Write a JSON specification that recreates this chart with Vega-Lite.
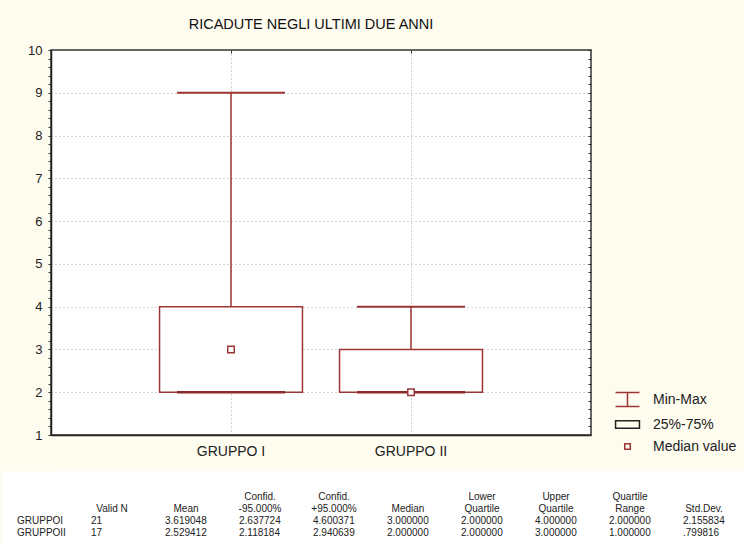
{
  "$schema": "https://vega.github.io/schema/vega-lite/v6.json",
  "background": "#FEFBEF",
  "padding": {"top": 15, "left": 0, "right": 0, "bottom": 0},
  "config": {"font": "Liberation Sans", "text": {"font": "Liberation Sans"}},
  "spacing": 12,
  "datasets": {
    "boxes": [
      {"group": "GRUPPO I", "min": 2, "q1": 2, "median": 3, "q3": 4, "max": 9},
      {"group": "GRUPPO II", "min": 2, "q1": 2, "median": 2, "q3": 3, "max": 4}
    ],
    "legendItems": [
      {"item": "Min-Max"},
      {"item": "25%-75%"},
      {"item": "Median value"}
    ],
    "table": [
      {"row": "h1", "col": "c3", "text": "Confid."},
      {"row": "h1", "col": "c4", "text": "Confid."},
      {"row": "h1", "col": "c6", "text": "Lower"},
      {"row": "h1", "col": "c7", "text": "Upper"},
      {"row": "h1", "col": "c8", "text": "Quartile"},
      {"row": "h2", "col": "c1", "text": "Valid N"},
      {"row": "h2", "col": "c2", "text": "Mean"},
      {"row": "h2", "col": "c3", "text": "-95.000%"},
      {"row": "h2", "col": "c4", "text": "+95.000%"},
      {"row": "h2", "col": "c5", "text": "Median"},
      {"row": "h2", "col": "c6", "text": "Quartile"},
      {"row": "h2", "col": "c7", "text": "Quartile"},
      {"row": "h2", "col": "c8", "text": "Range"},
      {"row": "h2", "col": "c9", "text": "Std.Dev."},
      {"row": "r1", "col": "c0", "text": "GRUPPOI"},
      {"row": "r1", "col": "c1", "text": "21"},
      {"row": "r1", "col": "c2", "text": "3.619048"},
      {"row": "r1", "col": "c3", "text": "2.637724"},
      {"row": "r1", "col": "c4", "text": "4.600371"},
      {"row": "r1", "col": "c5", "text": "3.000000"},
      {"row": "r1", "col": "c6", "text": "2.000000"},
      {"row": "r1", "col": "c7", "text": "4.000000"},
      {"row": "r1", "col": "c8", "text": "2.000000"},
      {"row": "r1", "col": "c9", "text": "2.155834"},
      {"row": "r2", "col": "c0", "text": "GRUPPOII"},
      {"row": "r2", "col": "c1", "text": "17"},
      {"row": "r2", "col": "c2", "text": "2.529412"},
      {"row": "r2", "col": "c3", "text": "2.118184"},
      {"row": "r2", "col": "c4", "text": "2.940639"},
      {"row": "r2", "col": "c5", "text": "2.000000"},
      {"row": "r2", "col": "c6", "text": "2.000000"},
      {"row": "r2", "col": "c7", "text": "3.000000"},
      {"row": "r2", "col": "c8", "text": "1.000000"},
      {"row": "r2", "col": "c9", "text": ".799816"}
    ]
  },
  "vconcat": [
    {
      "width": 540,
      "height": 385,
      "title": {"text": "RICADUTE NEGLI ULTIMI DUE ANNI", "fontSize": 14.5, "fontWeight": "normal", "color": "#111", "frame": "group", "dx": -10, "offset": 12, "font": "Liberation Sans"},
      "view": {"fill": "white", "stroke": "#333", "strokeWidth": 1.5},
      "data": {"name": "boxes"},
      "resolve": {"axis": {"y": "independent", "x": "independent"}},
      "layer": [
        {
          "mark": {"type": "rule", "color": "#9c3636", "strokeWidth": 1.5},
          "encoding": {
            "x": {"field": "group", "type": "nominal", "sort": null,
              "scale": {"domain": ["GRUPPO I", "GRUPPO II"], "paddingInner": 0.206, "paddingOuter": 0.603},
              "axis": {"title": null, "labelAngle": 0, "labelFontSize": 14, "labelColor": "#222", "labelPadding": 9, "ticks": false, "grid": true, "bandPosition": 0.5, "gridColor": "#a8a8a8", "gridDash": [1, 3], "gridWidth": 1, "domainColor": "#222", "domainWidth": 1.5}},
            "y": {"field": "min", "type": "quantitative",
              "scale": {"domain": [1, 10], "nice": false, "zero": false},
              "axis": {"title": null, "tickCount": 45, "labelOverlap": false, "labelExpr": "datum.value % 1 === 0 ? format(datum.value, 'd') : ''", "labelFontSize": 13, "labelColor": "#222", "labelPadding": 6, "tickSize": 3, "tickColor": "#333", "domainColor": "#222", "domainWidth": 1.5, "grid": true, "gridColor": "#a8a8a8", "gridDash": [1, 3], "gridOpacity": {"condition": {"test": "datum.value % 1 === 0 && datum.value > 1 && datum.value < 10", "value": 1}, "value": 0}, "minExtent": 50, "maxExtent": 50}},
            "y2": {"field": "max"}
          }
        },
        {
          "mark": {"type": "bar", "fill": "white", "stroke": "#9c3636", "strokeWidth": 1.5},
          "encoding": {
            "x": {"field": "group", "type": "nominal", "sort": null, "axis": null},
            "y": {"field": "q1", "type": "quantitative", "axis": null},
            "y2": {"field": "q3"}
          }
        },
        {
          "mark": {"type": "tick", "color": "#9c3636", "size": 108, "thickness": 2, "opacity": 1},
          "encoding": {
            "x": {"field": "group", "type": "nominal", "sort": null, "axis": null},
            "y": {"field": "max", "type": "quantitative", "axis": null}
          }
        },
        {
          "mark": {"type": "tick", "color": "#8a2a2a", "size": 108, "thickness": 2.5, "opacity": 1},
          "encoding": {
            "x": {"field": "group", "type": "nominal", "sort": null, "axis": null},
            "y": {"field": "min", "type": "quantitative", "axis": null}
          }
        },
        {
          "mark": {"type": "point", "shape": "square", "size": 42, "filled": true, "fill": "white", "stroke": "#9c3636", "strokeWidth": 1.5, "opacity": 1},
          "encoding": {
            "x": {"field": "group", "type": "nominal", "sort": null,
              "axis": {"orient": "top", "title": null, "labels": false, "ticks": true, "tickSize": -3, "tickColor": "#333", "domain": false, "grid": false, "bandPosition": 0.5, "minExtent": 0, "maxExtent": 0}},
            "y": {"field": "median", "type": "quantitative",
              "axis": {"orient": "right", "title": null, "labels": false, "tickCount": 45, "tickSize": -3, "tickColor": "#333", "domain": false, "grid": false, "minExtent": 0, "maxExtent": 0}}
          }
        },
        {
          "data": {"name": "legendItems"},
          "transform": [{"filter": "false"}],
          "mark": {"type": "point", "filled": false},
          "encoding": {
            "color": {"field": "item", "type": "nominal",
              "scale": {"domain": ["Min-Max", "25%-75%", "Median value"], "range": ["#9c3636", "#222222", "#9c3636"]},
              "legend": {"title": null, "orient": "none", "legendX": 564, "legendY": 337, "padding": 0, "rowPadding": 2, "labelFontSize": 14, "labelColor": "#222", "labelOffset": 13, "symbolSize": 529, "symbolStrokeWidth": 1.5, "symbolFillColor": "white", "symbolOpacity": 1, "labelFont": "Liberation Sans"}},
            "shape": {"field": "item", "type": "nominal",
              "scale": {"domain": ["Min-Max", "25%-75%", "Median value"], "range": ["M-1.04,-0.6H1.04M0,-0.6V0.6M-1.04,0.6H1.04", "M-1.04,-0.33H1.04V0.33H-1.04Z", "M-0.24,-0.24H0.24V0.24H-0.24Z"]},
              "legend": {"title": null, "orient": "none", "legendX": 564, "legendY": 337, "padding": 0, "rowPadding": 2, "labelFontSize": 14, "labelColor": "#222", "labelOffset": 13, "symbolSize": 529, "symbolStrokeWidth": 1.5, "symbolFillColor": "white", "symbolOpacity": 1, "labelFont": "Liberation Sans"}}
          }
        }
      ]
    },
    {
      "width": 694,
      "height": 74,
      "view": {"fill": "white", "stroke": null},
      "data": {"name": "table"},
      "layer": [
        {
          "transform": [{"filter": "datum.row === 'r1' || datum.row === 'r2'"}],
          "mark": {"type": "text", "align": "left", "baseline": "middle", "fontSize": 10, "color": "#222", "font": "Liberation Sans"},
          "encoding": {
            "x": {"field": "col", "type": "ordinal", "scale": {"type": "point", "domain": ["c0", "c1", "c2", "c3", "c4", "c5", "c6", "c7", "c8", "c9"], "range": [-34, 632], "padding": 0}, "axis": null},
            "y": {"field": "row", "type": "ordinal", "scale": {"type": "point", "domain": ["d1", "d2", "h1", "h2", "r1", "r2"], "range": [0, 74], "padding": 0.583, "align": 0.143},
              "axis": {"title": null, "labels": false, "ticks": false, "grid": false, "domain": true, "domainColor": "white", "domainWidth": 50, "domainCap": "butt", "offset": 25, "minExtent": 0, "maxExtent": 0}},
            "text": {"field": "text"}
          }
        },
        {
          "transform": [{"filter": "datum.row === 'h1' || datum.row === 'h2'"}],
          "mark": {"type": "text", "align": "center", "baseline": "middle", "dx": 21, "fontSize": 10, "color": "#222", "font": "Liberation Sans"},
          "encoding": {
            "x": {"field": "col", "type": "ordinal", "axis": null},
            "y": {"field": "row", "type": "ordinal"},
            "text": {"field": "text"}
          }
        }
      ]
    }
  ]
}
